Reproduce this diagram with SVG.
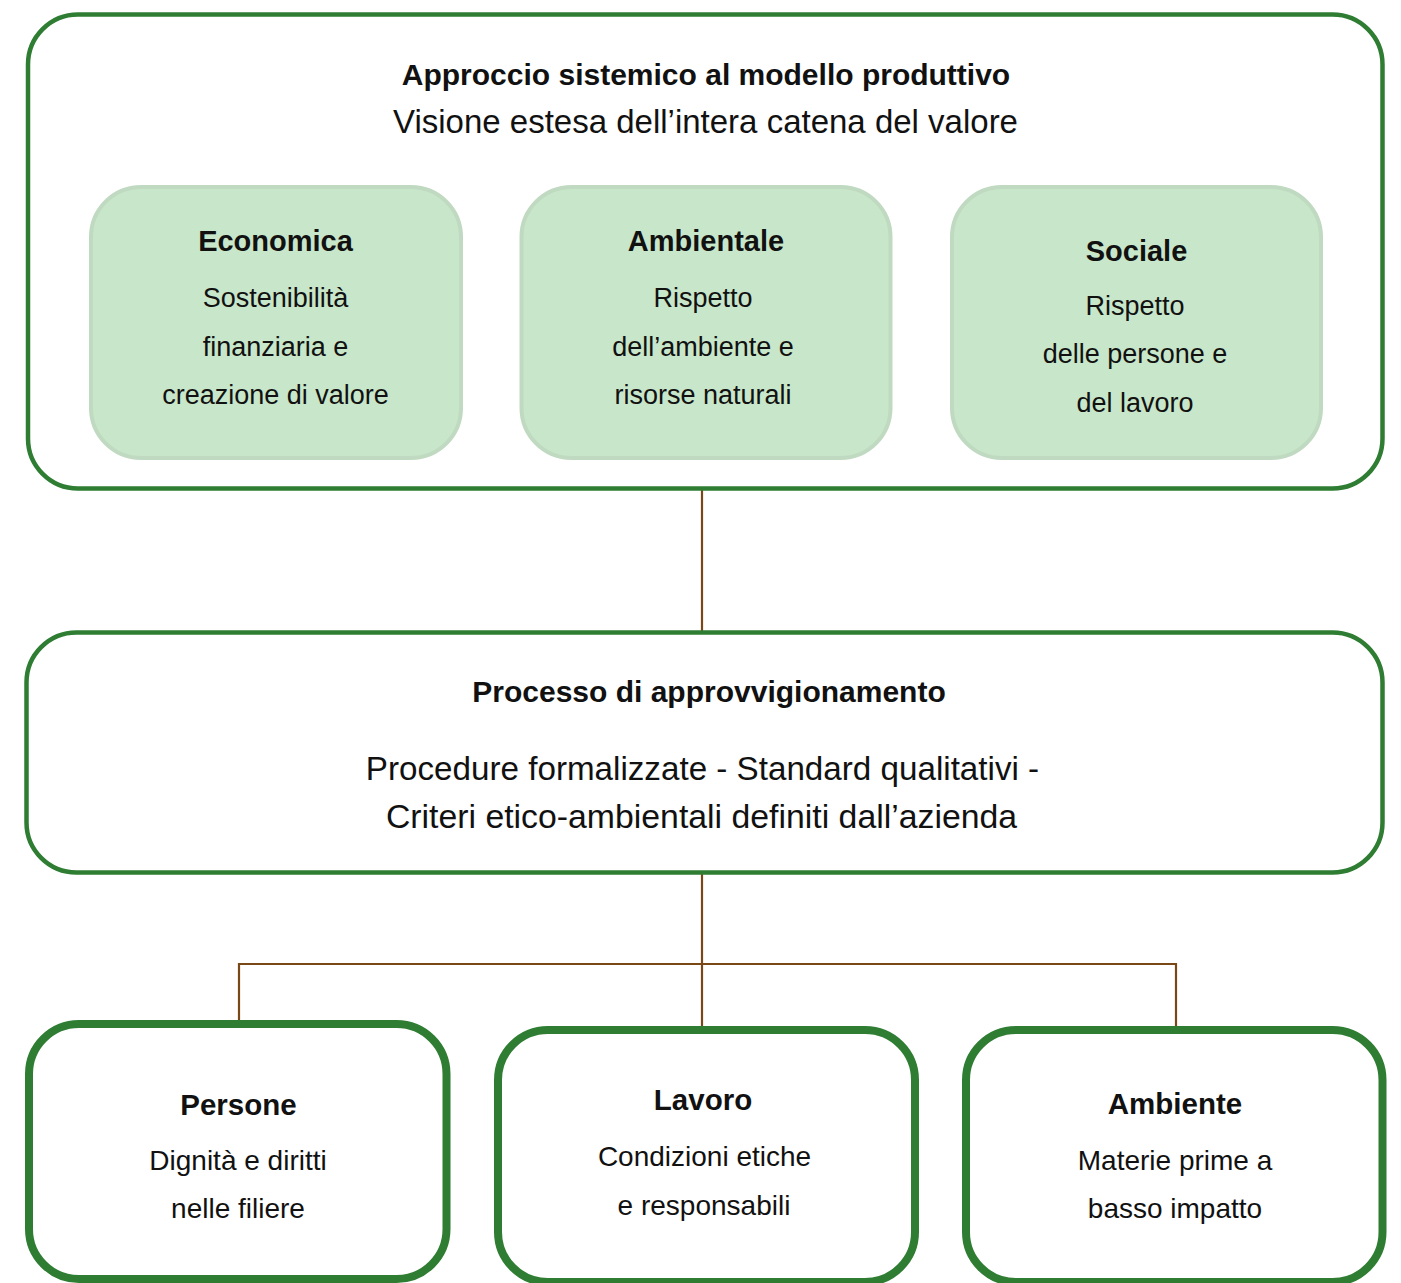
<svg xmlns="http://www.w3.org/2000/svg" width="1401" height="1283" viewBox="0 0 1401 1283">
<style>
text{font-family:"Liberation Sans",Arial,sans-serif;fill:#111;text-anchor:middle}
.t{font-weight:bold}
.outer{fill:#fff;stroke:#2e7d32;stroke-width:4.5}
.inner{fill:#c8e6c9;stroke:#c0d9c1;stroke-width:4}
.leaf{fill:#fff;stroke:#2e7d32;stroke-width:8}
.conn{fill:none;stroke:#7a4716;stroke-width:2.2}
</style>
<rect width="1401" height="1283" fill="#fff"/>
<g id="connectors">
<line class="conn" x1="702" y1="490" x2="702" y2="632"/>
<line class="conn" x1="702" y1="873" x2="702" y2="1028"/>
<polyline class="conn" points="239,1022 239,964 1176,964 1176,1027"/>
</g>
<g id="approccio">
<rect class="outer" x="28" y="14.5" width="1354.5" height="474" rx="50"/>
<text class="t" x="706" y="85" font-size="30">Approccio sistemico al modello produttivo</text>
<text x="705.5" y="133" font-size="33">Visione estesa dell’intera catena del valore</text>
</g>
<g id="economica">
<rect class="inner" x="91" y="187" width="370" height="271" rx="50"/>
<text class="t" x="275.5" y="251" font-size="29">Economica</text>
<text x="275.5" y="307" font-size="27">Sostenibilità</text>
<text x="275.5" y="356" font-size="27">finanziaria e</text>
<text x="275.5" y="404" font-size="27">creazione di valore</text>
</g>
<g id="ambientale">
<rect class="inner" x="521.5" y="187" width="369" height="271" rx="50"/>
<text class="t" x="706" y="251" font-size="29">Ambientale</text>
<text x="703" y="307" font-size="27">Rispetto</text>
<text x="703" y="356" font-size="27">dell’ambiente e</text>
<text x="703" y="404" font-size="27">risorse naturali</text>
</g>
<g id="sociale">
<rect class="inner" x="952" y="187" width="369" height="271" rx="50"/>
<text class="t" x="1136.5" y="261" font-size="29">Sociale</text>
<text x="1135" y="315" font-size="27">Rispetto</text>
<text x="1135" y="363" font-size="27">delle persone e</text>
<text x="1135" y="412" font-size="27">del lavoro</text>
</g>
<g id="processo">
<rect class="outer" x="26.5" y="632.5" width="1356" height="240" rx="50"/>
<text class="t" x="709" y="702" font-size="30">Processo di approvvigionamento</text>
<text x="702.5" y="780" font-size="33.2">Procedure formalizzate - Standard qualitativi -</text>
<text x="701.5" y="828" font-size="33.8">Criteri etico-ambientali definiti dall’azienda</text>
</g>
<g id="persone">
<rect class="leaf" x="29" y="1024" width="417.5" height="255" rx="50"/>
<text class="t" x="238.5" y="1115" font-size="29.5">Persone</text>
<text x="238" y="1170" font-size="28">Dignità e diritti</text>
<text x="238" y="1218" font-size="28">nelle filiere</text>
</g>
<g id="lavoro">
<rect class="leaf" x="498" y="1030" width="417" height="252" rx="50"/>
<text class="t" x="703" y="1110" font-size="29.5">Lavoro</text>
<text x="704.5" y="1166" font-size="28">Condizioni etiche</text>
<text x="704" y="1215" font-size="28">e responsabili</text>
</g>
<g id="ambiente">
<rect class="leaf" x="966" y="1030" width="416.5" height="252" rx="50"/>
<text class="t" x="1175" y="1114" font-size="29.5">Ambiente</text>
<text x="1175" y="1170" font-size="28">Materie prime a</text>
<text x="1175" y="1218" font-size="28">basso impatto</text>
</g>
</svg>
